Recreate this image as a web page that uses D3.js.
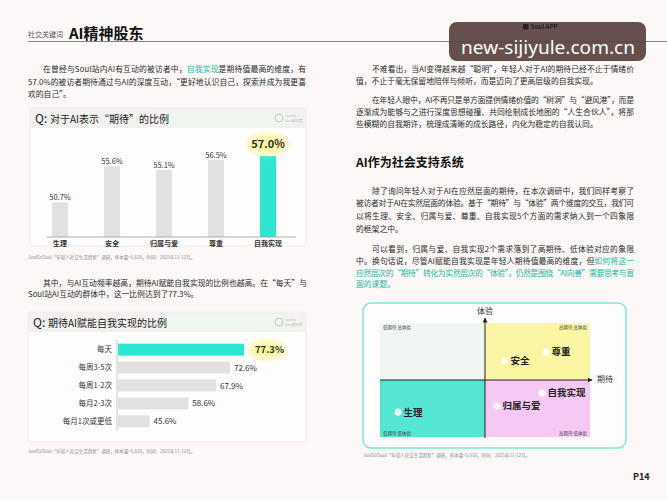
<!DOCTYPE html>
<html><head><meta charset="utf-8">
<script src="https://cdn.jsdelivr.net/npm/d3@7"></script>
<style>
html,body{margin:0;padding:0;background:#fbf8f7;}
svg{display:block;font-family:"Noto Sans CJK SC","Noto Sans",sans-serif;}
</style></head>
<body>
<svg id="c" width="667" height="500"></svg>
<script>
// ---------- data ----------
const needCats = ["生理", "安全", "归属与爱", "尊重", "自我实现"];
const expectVals = [50.7, 55.6, 55.1, 56.5, 57.0];
const freqCats = ["每天", "每周3-5次", "每周1-2次", "每月2-3次", "每月1次或更低"];
const freqVals = [77.3, 72.6, 67.9, 58.6, 45.6];
const quadExpect = [8.6, 59.5, 55.7, 79, 77.1];     // 期待 position (0-100)
const quadExperience = [21.9, 66.7, 27.2, 74.6, 38.6]; // 体验 position (0-100)
const quadCorners = ["低期待 高体验", "高期待 高体验", "低期待 低体验", "高期待 低体验"];
const sourceNote = "JustSoSoul“年轻人社交生活趋势”调研，样本量=5,610，时间：2025年11-12月。";

const TEAL = "#2ee6cf", GREY = "#e3e1e0", HL = "#1fb5a3", TXT = "#2a2a2a";
const svg = d3.select("#c");

// ---------- header ----------
svg.append("line").attr("x1", 28).attr("x2", 667).attr("y1", 41.5).attr("y2", 41.5).attr("stroke", "#7a7676").attr("stroke-width", 0.9);
svg.append("text").attr("x", 28).attr("y", 37).attr("font-size", 7).attr("fill", "#555").text("社交关键词");
svg.append("text").attr("x", 69).attr("y", 38.5).attr("font-size", 15).attr("font-weight", 700).attr("fill", "#111").text("AI精神股东");

// ---------- paragraph helper ----------
function para(lines, x0, indent, y0, lh, width) {
  lines.forEach((ln, i) => {
    const x = x0 + (i === 0 ? indent : 0);
    const t = svg.append("text").attr("x", x).attr("y", y0 + i * lh).attr("font-size", 7.8).attr("fill", TXT);
    if (!ln.last) t.attr("textLength", width - (x - x0)).attr("lengthAdjust", "spacing");
    ln.segs.forEach(s => t.append("tspan").attr("fill", s[1] ? HL : TXT).text(s[0]));
  });
}

para([
  {segs: [["在曾经与Soul站内AI有互动的被访者中，"], ["自我实现", 1], ["是期待值最高的维度，有"]]},
  {segs: [["57.0%的被访者期待通过与AI的深度互动，“更好地认识自己，探索并成为我更喜"]]},
  {segs: [["欢的自己”。"]], last: true}
], 28, 15, 72, 12.6, 278);

para([
  {segs: [["其中，与AI互动频率越高，期待AI赋能自我实现的比例也越高。在“每天”与"]]},
  {segs: [["Soul站AI互动的群体中，这一比例达到了77.3%。"]], last: true}
], 28, 15, 285.5, 11.8, 279);

para([
  {segs: [["不难看出，当AI变得越来越“聪明”，年轻人对于AI的期待已经不止于情绪价"]]},
  {segs: [["值，不止于毫无保留地陪伴与倾听，而是迈向了更高层级的自我实现。"]], last: true}
], 356, 16, 71.5, 12.6, 278);

para([
  {segs: [["在年轻人眼中，AI不再只是单方面提供情绪价值的“树洞”与“避风港”，而是"]]},
  {segs: [["逐渐成为能够与之进行深度思想碰撞、共同绘制成长地图的“人生合伙人”，将那"]]},
  {segs: [["些模糊的自我期许，梳理成清晰的成长路径，内化为稳定的自我认同。"]], last: true}
], 356, 16, 103, 12, 278);

svg.append("text").attr("x", 356).attr("y", 167).attr("font-size", 12).attr("font-weight", 700).attr("fill", "#111").text("AI作为社会支持系统");

para([
  {segs: [["除了询问年轻人对于AI在应然层面的期待，在本次调研中，我们同样考察了"]]},
  {segs: [["被访者对于AI在实然层面的体验。基于“期待”与“体验”两个维度的交互，我们可"]]},
  {segs: [["以将生理、安全、归属与爱、尊重、自我实现5个方面的需求纳入到一个四象限"]]},
  {segs: [["的框架之中。"]], last: true}
], 356, 16, 193.5, 12.7, 278);

para([
  {segs: [["可以看到，归属与爱、自我实现2个需求落到了高期待、低体验对应的象限"]]},
  {segs: [["中。换句话说，尽管AI赋能自我实现是年轻人期待值最高的维度，但"], ["如何将这一", 1]]},
  {segs: [["应然层次的“期待”转化为实然层次的“体验”，仍然是围绕“AI向善”需要思考与直", 1]]},
  {segs: [["面的课题。", 1]], last: true}
], 356, 16, 252, 11.8, 278);

// ---------- chart boxes ----------
function chartBox(x, y, w, h, title) {
  svg.append("rect").attr("x", x).attr("y", y).attr("width", w).attr("height", h).attr("rx", 2)
    .attr("fill", "#fefdfd").attr("stroke", "#efecec").attr("stroke-width", 1);
  svg.append("rect").attr("x", x).attr("y", y).attr("width", w).attr("height", 20).attr("fill", "#f3f1f0");
  svg.append("rect").attr("x", x + 128).attr("y", y + 3).attr("width", w - 136).attr("height", 15).attr("fill", "#f0f5ef");
  const t = svg.append("text").attr("x", x + 5).attr("y", y + 14.5).attr("fill", "#222");
  t.append("tspan").attr("font-size", 12).text("Q: ");
  t.append("tspan").attr("font-size", 10).text(title);
  svg.append("circle").attr("cx", x + w - 27).attr("cy", y + 10).attr("r", 4).attr("fill", "none").attr("stroke", "#c9c9c9").attr("stroke-width", 1);
  svg.append("text").attr("x", x + w - 21).attr("y", y + 9).attr("font-size", 3.5).attr("fill", "#bbb").text("JustSo");
  svg.append("text").attr("x", x + w - 21).attr("y", y + 13.5).attr("font-size", 3.5).attr("fill", "#bbb").text("Soul研究院");
}
chartBox(30, 108, 276, 138, "对于AI表示“期待”的比例");
chartBox(28, 312, 278, 130, "期待AI赋能自我实现的比例");

const defs = svg.append("defs");
defs.append("filter").attr("id", "blur").attr("x", "-50%").attr("y", "-50%").attr("width", "200%").attr("height", "200%")
  .append("feGaussianBlur").attr("stdDeviation", 3);

// ---------- vertical bar chart ----------
const xb = d3.scaleBand().domain(needCats).range([34, 294]).paddingInner(0.69).paddingOuter(0.345);
const yb = d3.scaleLinear().domain([46, 57]).range([237, 156]);
const g1 = svg.append("g");
g1.selectAll("rect.b").data(needCats).join("rect")
  .attr("x", d => xb(d)).attr("width", xb.bandwidth())
  .attr("y", (d, i) => yb(expectVals[i])).attr("height", (d, i) => 237 - yb(expectVals[i]))
  .attr("fill", (d, i) => i === 4 ? TEAL : GREY);
const ax1 = g1.append("g").attr("transform", "translate(0,237)").call(d3.axisBottom(xb).tickSize(0).tickPadding(4));
ax1.select(".domain").attr("d", "M47,0H296").attr("stroke", "#9a9a9a").attr("stroke-width", 0.8);
ax1.selectAll("text").attr("font-size", 7).attr("font-weight", 700).attr("fill", "#333").attr("font-family", "Noto Sans CJK SC");
g1.append("ellipse").attr("cx", xb(needCats[4]) + xb.bandwidth() / 2).attr("cy", 144).attr("rx", 20).attr("ry", 10)
  .attr("fill", "#f9f59a").attr("filter", "url(#blur)");
g1.selectAll("text.v").data(needCats).join("text").attr("class", "v")
  .attr("x", d => xb(d) + xb.bandwidth() / 2)
  .attr("y", (d, i) => i === 4 ? 148 : yb(expectVals[i]) - 2)
  .attr("text-anchor", "middle")
  .attr("font-size", (d, i) => i === 4 ? 11 : 7.5)
  .attr("font-weight", (d, i) => i === 4 ? 700 : 400)
  .attr("fill", "#333")
  .text((d, i) => expectVals[i].toFixed(1) + "%");
svg.append("text").attr("x", 28).attr("y", 259).attr("font-size", 4.5).attr("fill", "#888").text(sourceNote);

// ---------- horizontal bar chart ----------
const yh = d3.scaleBand().domain(freqCats).range([341, 430]).paddingInner(0.33).paddingOuter(0.15);
const xh = d3.scaleLinear().domain([35, 77.3]).range([118, 244]);
const g2 = svg.append("g");
g2.selectAll("rect").data(freqCats).join("rect")
  .attr("x", 118).attr("y", d => yh(d)).attr("height", yh.bandwidth())
  .attr("width", (d, i) => xh(freqVals[i]) - 118)
  .attr("fill", (d, i) => i === 0 ? TEAL : GREY);
const ax2 = g2.append("g").attr("transform", "translate(117,0)").call(d3.axisLeft(yh).tickSize(0).tickPadding(5));
ax2.select(".domain").attr("d", "M0,340V431").attr("stroke", "#bbb").attr("stroke-width", 0.8);
ax2.selectAll("text").attr("font-size", 7.5).attr("fill", "#333").attr("font-family", "Noto Sans CJK SC");
g2.append("ellipse").attr("cx", 267).attr("cy", yh(freqCats[0]) + yh.bandwidth() / 2).attr("rx", 18).attr("ry", 9)
  .attr("fill", "#f9f59a").attr("filter", "url(#blur)");
g2.selectAll("text.v").data(freqCats).join("text").attr("class", "v")
  .attr("x", (d, i) => i === 0 ? 255 : xh(freqVals[i]) + 4)
  .attr("y", d => yh(d) + yh.bandwidth() / 2 + 3)
  .attr("font-size", (d, i) => i === 0 ? 9.5 : 8)
  .attr("font-weight", (d, i) => i === 0 ? 700 : 400)
  .attr("fill", "#333")
  .text((d, i) => freqVals[i].toFixed(1) + "%");
svg.append("text").attr("x", 28).attr("y", 453).attr("font-size", 4.5).attr("fill", "#888").text(sourceNote);

// ---------- quadrant chart ----------
svg.append("rect").attr("x", 363).attr("y", 303).attr("width", 263).attr("height", 145).attr("rx", 8)
  .attr("fill", "#fcfdfc").attr("stroke", "#7fe5d7").attr("stroke-width", 1.5);
const qx = d3.scaleLinear().domain([0, 100]).range([380, 590]);
const qy = d3.scaleLinear().domain([0, 100]).range([437, 323]);
const quads = [
  {x0: 0, x1: 50, y0: 50, y1: 100, c: "#eff6f1"},
  {x0: 50, x1: 100, y0: 50, y1: 100, c: "#fbf6a4"},
  {x0: 0, x1: 50, y0: 0, y1: 50, c: "#55e6d3"},
  {x0: 50, x1: 100, y0: 0, y1: 50, c: "#f6c9f4"}
];
svg.selectAll("rect.q").data(quads).join("rect").attr("class", "q")
  .attr("x", d => qx(d.x0)).attr("y", d => qy(d.y1))
  .attr("width", d => qx(d.x1) - qx(d.x0)).attr("height", d => qy(d.y0) - qy(d.y1))
  .attr("fill", d => d.c);
const cornerPos = [[0, 100, "start"], [100, 100, "end"], [0, 0, "start"], [100, 0, "end"]];
quadCorners.forEach((t, i) => {
  const p = cornerPos[i];
  svg.append("text").attr("x", qx(p[0]) + (p[2] === "start" ? 3 : -3))
    .attr("y", qy(p[1]) + (p[1] === 100 ? 6 : -2.5))
    .attr("text-anchor", p[2]).attr("font-size", 4.5).attr("fill", "#444").text(t);
});
defs.append("marker").attr("id", "arr").attr("viewBox", "0 0 10 10").attr("refX", 9).attr("refY", 5)
  .attr("markerWidth", 5).attr("markerHeight", 5).attr("orient", "auto")
  .append("path").attr("d", "M0,0L10,5L0,10Z").attr("fill", "#222");
svg.append("line").attr("x1", qx(0)).attr("x2", qx(100) + 2).attr("y1", qy(50)).attr("y2", qy(50))
  .attr("stroke", "#222").attr("stroke-width", 1).attr("marker-end", "url(#arr)");
svg.append("line").attr("x1", qx(50)).attr("x2", qx(50)).attr("y1", qy(0) + 1).attr("y2", qy(100) - 5)
  .attr("stroke", "#222").attr("stroke-width", 1).attr("marker-end", "url(#arr)");
svg.append("text").attr("x", qx(50)).attr("y", 314).attr("text-anchor", "middle").attr("font-size", 8).attr("fill", "#333").text("体验");
svg.append("text").attr("x", 597).attr("y", 382).attr("font-size", 8).attr("fill", "#333").text("期待");
svg.selectAll("circle.p").data(needCats).join("circle").attr("class", "p")
  .attr("cx", (d, i) => qx(quadExpect[i])).attr("cy", (d, i) => qy(quadExperience[i])).attr("r", 3.6)
  .attr("fill", "#fff").attr("opacity", 0.85);
svg.selectAll("text.p").data(needCats).join("text").attr("class", "p")
  .attr("x", (d, i) => qx(quadExpect[i]) + 5.5).attr("y", (d, i) => qy(quadExperience[i]) + 3.5)
  .attr("font-size", 9.5).attr("font-weight", 700).attr("fill", "#222").text(d => d);
svg.append("text").attr("x", 363).attr("y", 457).attr("font-size", 4.5).attr("fill", "#888").text(sourceNote);

svg.append("text").attr("x", 633).attr("y", 480).attr("font-size", 9).attr("font-weight", 700).attr("fill", "#222").text("P14");

// ---------- watermark ----------
svg.append("rect").attr("x", 449).attr("y", 22).attr("width", 197).attr("height", 39).attr("rx", 8)
  .attr("fill", "#5a4340").attr("opacity", 0.93);
svg.append("rect").attr("x", 523).attr("y", 24).attr("width", 5.5).attr("height", 5.5).attr("fill", "#2a2020");
svg.append("text").attr("x", 530.5).attr("y", 29.2).attr("font-size", 6.2).attr("font-weight", 700).attr("fill", "#2a2020").text("Soul APP");
svg.append("text").attr("x", 548).attr("y", 53.5).attr("text-anchor", "middle").attr("font-size", 18.5)
  .attr("font-family", "Noto Sans").attr("fill", "#fff").attr("textLength", 174).attr("lengthAdjust", "spacingAndGlyphs")
  .text("new-sijiyule.com.cn");
</script>
</body></html>
